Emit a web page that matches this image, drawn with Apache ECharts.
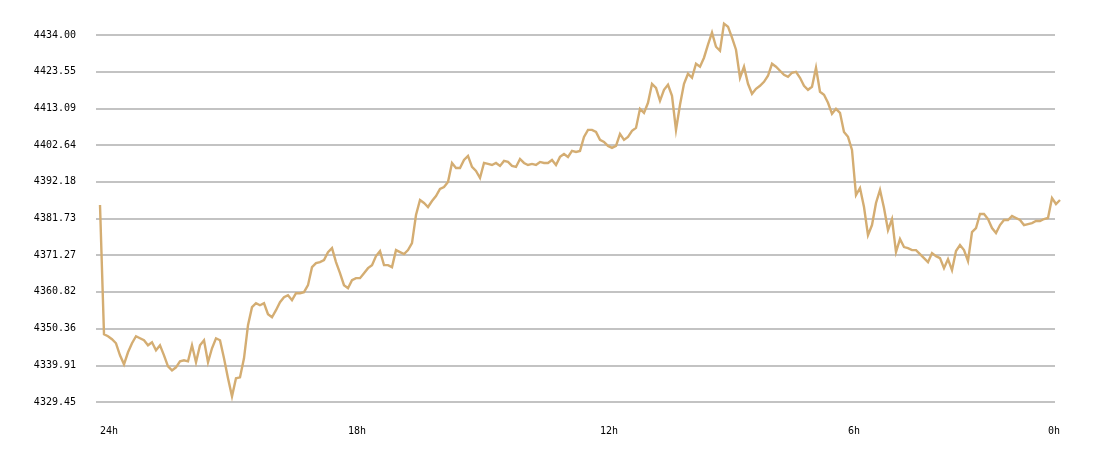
<!DOCTYPE html>
<html>
<head>
<meta charset="utf-8">
<script src="https://cdn.jsdelivr.net/npm/echarts@6/dist/echarts.min.js"></script>
<style>
html,body{margin:0;padding:0;background:#fff;}
#chart{width:1100px;height:458px;}
</style>
</head>
<body>
<div id="chart"></div>
<script>
// Price samples, oldest (24h ago) to newest
const prices = [
4385.57,4348.75,4348.18,4347.32,4346.18,4342.75,4340.18,4343.61,4346.18,4348.18,
4347.60,4347.03,4345.61,4346.46,4344.18,4345.61,4342.75,4339.61,4338.47,4339.33,
4341.04,4341.33,4341.04,4345.61,4340.75,4345.61,4347.03,4340.75,4344.75,4347.60,
4347.03,4341.90,4336.19,4331.05,4336.19,4336.47,4341.90,4351.32,4356.45,4357.59,
4357.02,4357.59,4354.46,4353.60,4355.60,4357.88,4359.31,4359.88,4358.45,4360.45,
4360.45,4360.73,4362.73,4367.87,4369.01,4369.30,4369.87,4372.15,4373.29,4369.30,
4366.16,4362.73,4361.88,4364.16,4364.73,4364.73,4366.16,4367.58,4368.44,4371.01,
4372.44,4368.44,4368.44,4367.87,4372.72,4372.15,4371.58,4372.72,4374.72,4382.71,
4386.99,4386.14,4385.00,4386.71,4388.14,4390.13,4390.70,4392.13,4397.55,4396.13,
4396.13,4398.41,4399.55,4396.41,4395.27,4393.27,4397.55,4397.27,4396.98,4397.55,
4396.70,4398.13,4397.84,4396.70,4396.41,4398.70,4397.55,4396.98,4397.27,4396.98,
4397.84,4397.55,4397.55,4398.41,4396.98,4399.27,4400.12,4399.27,4400.98,4400.69,
4400.98,4404.98,4406.97,4406.97,4406.40,4404.12,4403.55,4402.41,4401.84,4402.41,
4405.83,4404.12,4404.98,4406.69,4407.54,4412.97,4411.83,4414.68,4420.10,4418.96,
4415.25,4418.39,4419.82,4416.68,4406.97,4414.11,4420.10,4422.96,4421.82,4425.81,
4424.96,4427.53,4431.24,4434.66,4430.66,4429.52,4437.23,4436.37,4433.23,4429.81,
4421.82,4424.96,4420.10,4417.25,4418.68,4419.53,4420.67,4422.39,4425.81,4424.96,
4423.81,4422.67,4422.10,4423.24,4423.53,4421.82,4419.53,4418.39,4419.25,4424.67,
4417.82,4416.96,4414.68,4411.54,4412.97,4411.83,4406.40,4404.98,4401.27,4388.42,
4390.42,4385.00,4377.00,4379.86,4386.14,4389.85,4384.71,4378.43,4381.57,4372.15,
4375.86,4373.58,4373.29,4372.72,4372.72,4371.58,4370.44,4369.30,4371.87,4371.01,
4370.44,4367.58,4370.15,4367.01,4372.44,4374.15,4372.72,4369.58,4377.86,4379.00,
4383.00,4383.00,4381.57,4379.00,4377.57,4379.86,4381.29,4381.29,4382.43,4381.86,
4381.29,4379.86,4380.14,4380.43,4381.00,4381.00,4381.57,4381.86,4387.56,4385.85,
4386.99
];
// Sample categories (index of each sample)
const categories = prices.map((_, i) => String(i));
// X tick labels and the sample index where each appears
const xTickLabels = ['24h', '18h', '12h', '6h', '0h'];
const xTickIndex = [0, 62, 125, 187, 237];
// Y tick labels
const yTicks = [4329.45, 4339.91, 4350.36, 4360.82, 4371.27, 4381.73, 4392.18, 4402.64, 4413.09, 4423.55, 4434.00];
const yMin = 4329.45, yMax = 4434.00, yInterval = 10.455;

const chart = echarts.init(document.getElementById('chart'), null, {renderer: 'canvas'});
const font = {fontFamily: 'DejaVu Sans Mono', fontSize: 10, color: '#000'};
chart.setOption({
  backgroundColor: '#fff',
  animation: false,
  grid: [
    {left: 96, right: 45, top: 35, bottom: 56},
    {left: 100, right: 40, top: 35, bottom: 56}
  ],
  xAxis: [
    {gridIndex: 0, type: 'category', data: categories, show: false, boundaryGap: false},
    {
      gridIndex: 1, type: 'category', data: categories, boundaryGap: false,
      axisLine: {show: false}, axisTick: {show: false}, splitLine: {show: false},
      axisLabel: Object.assign({}, font, {
        margin: 24, align: 'left',
        interval: (idx) => xTickIndex.indexOf(idx) >= 0,
        formatter: (v, idx) => {
          const k = xTickIndex.indexOf(Number(v));
          return k >= 0 ? xTickLabels[k] : '';
        }
      })
    }
  ],
  yAxis: [
    {
      gridIndex: 0, type: 'value', min: yMin, max: yMax, interval: yInterval,
      axisLine: {show: false}, axisTick: {show: false},
      splitLine: {show: true, lineStyle: {color: '#c3c3c3', width: 2}},
      axisLabel: Object.assign({}, font, {
        margin: 20,
        formatter: (v) => {
          let best = yTicks[0];
          yTicks.forEach(t => { if (Math.abs(t - v) < Math.abs(best - v)) best = t; });
          return best.toFixed(2);
        }
      })
    },
    {gridIndex: 1, type: 'value', min: yMin, max: yMax, interval: yInterval, show: false, splitLine: {show: false}}
  ],
  series: [{
    type: 'line', xAxisIndex: 1, yAxisIndex: 1, data: prices,
    symbol: 'none', clip: false, smooth: false,
    lineStyle: {color: '#d4ad72', width: 2.4, join: 'miter'},
    itemStyle: {color: '#d4ad72'}
  }]
});
</script>
</body>
</html>
